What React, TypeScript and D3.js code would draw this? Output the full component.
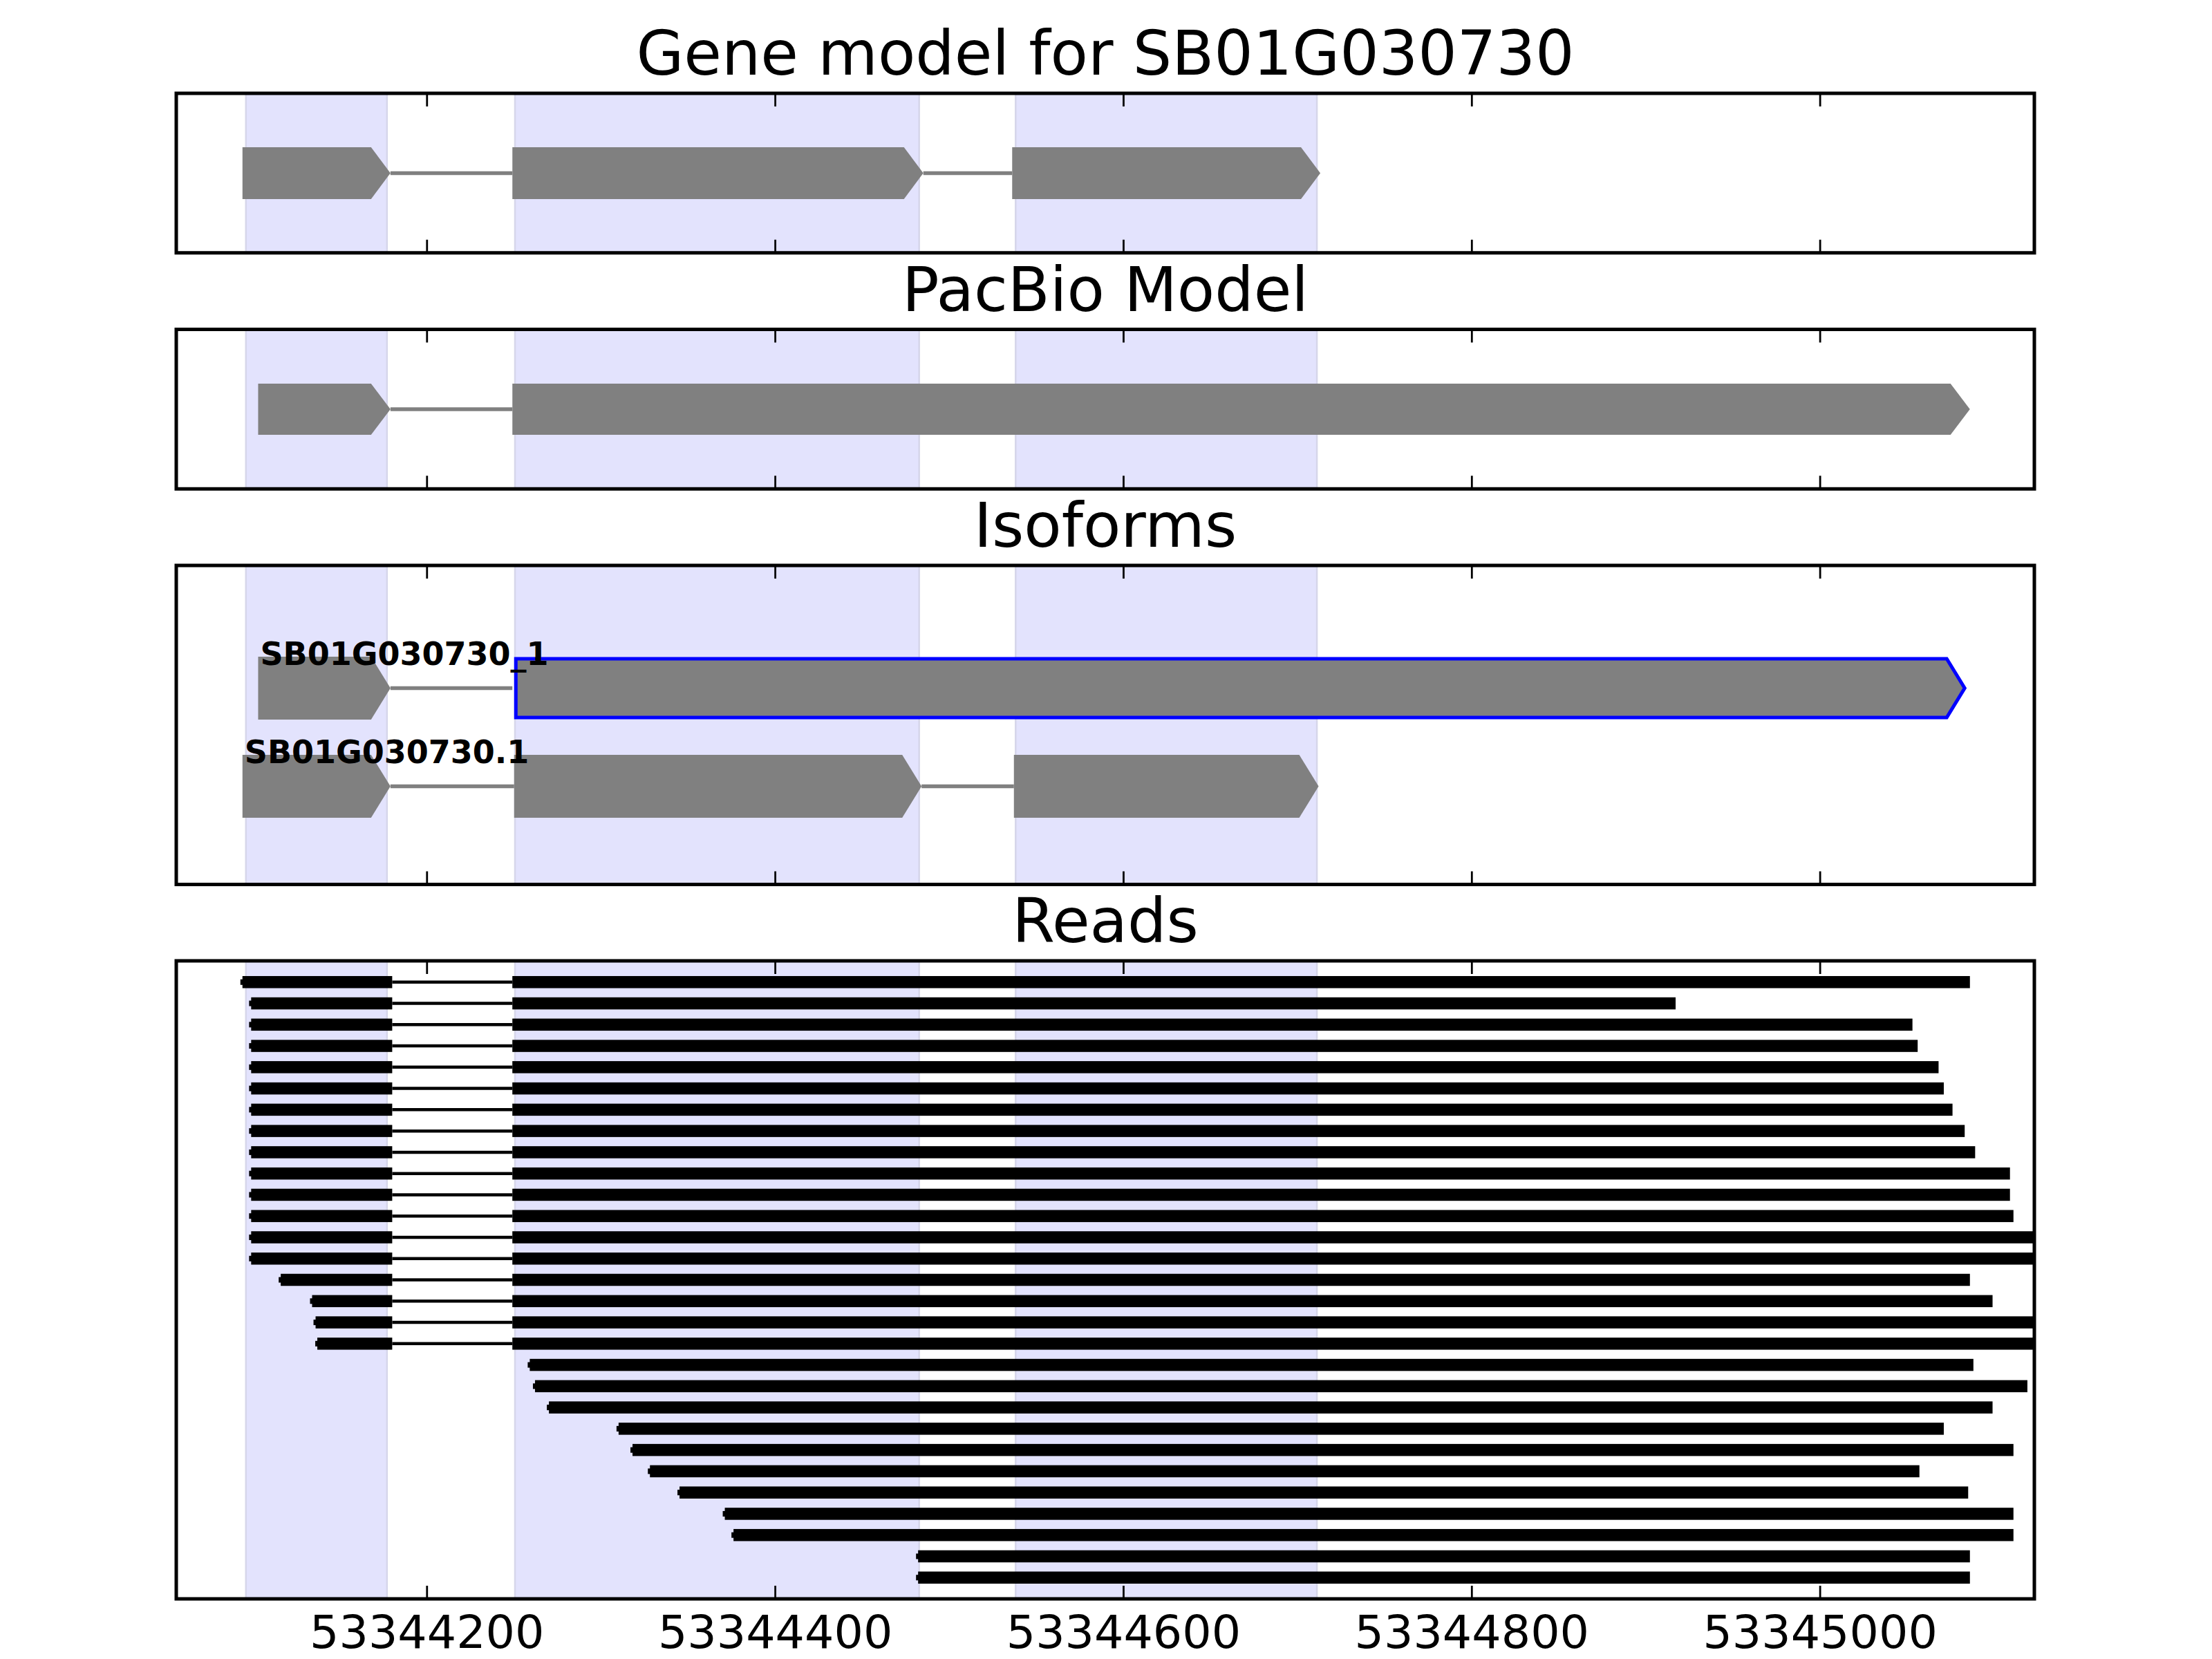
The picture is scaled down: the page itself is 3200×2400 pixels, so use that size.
import React, { useEffect } from "react";
import * as d3 from "d3";

// ---------- data ----------
const X_MIN = 53344056;
const X_MAX = 53345123;
const TICKS = [53344200, 53344400, 53344600, 53344800, 53345000];

const TITLES = ["Gene model for SB01G030730", "PacBio Model", "Isoforms", "Reads"];

// shaded exon regions (from gene model)
const SHADE_STARTS = [53344096, 53344250.5, 53344538];
const SHADE_ENDS = [53344177, 53344482.6, 53344711];

const GENE_STARTS = [53344096, 53344251, 53344538];
const GENE_ENDS = [53344177, 53344483, 53344711];

const PACBIO_STARTS = [53344105, 53344251];
const PACBIO_ENDS = [53344177, 53345084];

const ISOFORM_NAMES = ["SB01G030730_1", "SB01G030730.1"];
const ISOFORM_STARTS = [
  [53344105, 53344251],
  [53344096, 53344252, 53344539],
];
const ISOFORM_ENDS = [
  [53344177, 53345083],
  [53344177, 53344482, 53344710],
];
const ISOFORM_HIGHLIGHT = [
  [false, true],
  [false, false, false],
];

const READ_STARTS = [
  53344094, 53344099, 53344099, 53344099, 53344099, 53344099, 53344099, 53344099,
  53344099, 53344099, 53344099, 53344099, 53344099, 53344099, 53344116, 53344134,
  53344136, 53344137, 53344259, 53344262, 53344270, 53344310, 53344318, 53344328,
  53344345, 53344371, 53344376, 53344482, 53344482,
];
const READ_ENDS = [
  53345086, 53344917, 53345053, 53345056, 53345068, 53345071, 53345076, 53345083,
  53345089, 53345109, 53345109, 53345111, 53345140, 53345140, 53345086, 53345099,
  53345140, 53345140, 53345088, 53345119, 53345099, 53345071, 53345111, 53345057,
  53345085, 53345111, 53345111, 53345086, 53345086,
];
const READ_SPLICED = [
  true, true, true, true, true, true, true, true, true, true, true, true, true, true,
  true, true, true, true, false, false, false, false, false, false, false, false,
  false, false, false,
];
const JUNCTION_DONOR = 53344180;
const JUNCTION_ACCEPTOR = 53344249;

// ---------- layout ----------
const W = 3200;
const H = 2400;
const LEFT = 255;
const RIGHT = 2943;
const UNIT = 230.75;
const PANELS = [
  { top: 135, h: UNIT },
  { top: 476.5, h: UNIT },
  { top: 818, h: UNIT * 2 },
  { top: 1390, h: UNIT * 4 },
];
const FONT = "DejaVu Sans, Liberation Sans, sans-serif";
const GRAY = "#808080";

const x = d3.scaleLinear().domain([X_MIN, X_MAX]).range([LEFT, RIGHT]);

function arrowPts(s: number, e: number, yc: number, half: number, pad = 5, head = 28) {
  const l = x(s) - pad;
  const t = x(e) + pad;
  const f = t - head;
  return [
    [l, yc - half],
    [f, yc - half],
    [t, yc],
    [f, yc + half],
    [l, yc + half],
  ]
    .map((p) => p.join(","))
    .join(" ");
}

function Shading({ top, h }: { top: number; h: number }) {
  return (
    <g>
      {SHADE_STARTS.map((s, i) => (
        <rect
          key={i}
          x={x(s)}
          y={top}
          width={x(SHADE_ENDS[i]) - x(s)}
          height={h}
          fill="#e3e3fd"
          stroke="#d6d6ea"
          strokeWidth={2.5}
        />
      ))}
    </g>
  );
}

function Gene({
  starts,
  ends,
  yc,
  half,
  highlight,
}: {
  starts: number[];
  ends: number[];
  yc: number;
  half: number;
  highlight?: boolean[];
}) {
  return (
    <g>
      {starts.slice(0, -1).map((s, i) => (
        <line
          key={"i" + i}
          x1={x(ends[i]) + 5}
          x2={x(starts[i + 1]) - 5}
          y1={yc}
          y2={yc}
          stroke={GRAY}
          strokeWidth={5.5}
        />
      ))}
      {starts.map((s, i) =>
        highlight && highlight[i] ? (
          <polygon
            key={i}
            points={arrowPts(s, ends[i], yc, half - 3, 0, 26)}
            fill={GRAY}
            stroke="#0000ff"
            strokeWidth={5}
          />
        ) : (
          <polygon key={i} points={arrowPts(s, ends[i], yc, half)} fill={GRAY} />
        )
      )}
    </g>
  );
}

function Frame({ top, h, labels }: { top: number; h: number; labels?: boolean }) {
  return (
    <g>
      {TICKS.map((t) => (
        <g key={t}>
          <line x1={x(t)} x2={x(t)} y1={top} y2={top + 19} stroke="#000" strokeWidth={2.8} />
          <line x1={x(t)} x2={x(t)} y1={top + h} y2={top + h - 19} stroke="#000" strokeWidth={2.8} />
          {labels && (
            <text
              x={x(t)}
              y={top + h + 71}
              textAnchor="middle"
              fontFamily={FONT}
              fontSize={66.7}
              fill="#000"
            >
              {t}
            </text>
          )}
        </g>
      ))}
      <rect x={LEFT} y={top} width={RIGHT - LEFT} height={h} fill="none" stroke="#000" strokeWidth={5} />
    </g>
  );
}

export default function App() {
  useEffect(() => {
    document.body.style.margin = "0";
  }, []);

  const [p1, p2, p3, p4] = PANELS;
  const isoY = d3.scaleLinear().domain([0, 3.25]).range([p3.top, p3.top + p3.h]);
  const readY = d3.scaleLinear().domain([0, 30]).range([p4.top, p4.top + p4.h]);
  const barH = 17.5;

  return (
    <svg width={W} height={H} style={{ display: "block", background: "#fff" }}>
      <defs>
        <clipPath id="readsClip">
          <rect x={LEFT} y={p4.top} width={RIGHT - LEFT} height={p4.h} />
        </clipPath>
      </defs>
      <rect x={0} y={0} width={W} height={H} fill="#fff" />
      {PANELS.map((p, i) => (
        <text
          key={i}
          x={(LEFT + RIGHT) / 2}
          y={p.top - 27}
          textAnchor="middle"
          fontFamily={FONT}
          fontSize={88.9}
          fill="#000"
        >
          {TITLES[i]}
        </text>
      ))}

      {/* Panel 1: gene model */}
      <Shading top={p1.top} h={p1.h} />
      <Gene starts={GENE_STARTS} ends={GENE_ENDS} yc={p1.top + p1.h / 2} half={37.5} />
      <Frame top={p1.top} h={p1.h} />

      {/* Panel 2: PacBio */}
      <Shading top={p2.top} h={p2.h} />
      <Gene starts={PACBIO_STARTS} ends={PACBIO_ENDS} yc={p2.top + p2.h / 2} half={37} />
      <Frame top={p2.top} h={p2.h} />

      {/* Panel 3: isoforms */}
      <Shading top={p3.top} h={p3.h} />
      {ISOFORM_NAMES.map((name, i) => {
        const yc = isoY(i + 1.25);
        return (
          <g key={name}>
            <Gene
              starts={ISOFORM_STARTS[i]}
              ends={ISOFORM_ENDS[i]}
              yc={yc}
              half={45.5}
              highlight={ISOFORM_HIGHLIGHT[i]}
            />
            <text
              x={x(ISOFORM_STARTS[i][0]) - 2}
              y={yc - 34}
              fontFamily={FONT}
              fontWeight="bold"
              fontSize={46}
              fill="#000"
            >
              {name}
            </text>
          </g>
        );
      })}
      <Frame top={p3.top} h={p3.h} />

      {/* Panel 4: reads */}
      <Shading top={p4.top} h={p4.h} />
      <g clipPath="url(#readsClip)">
        {READ_STARTS.map((s, i) => {
          const yc = readY(i + 1);
          const e = READ_ENDS[i];
          if (READ_SPLICED[i]) {
            return (
              <g key={i}>
                <rect x={x(s) - 3} y={yc - 4} width={4} height={8} fill="#000" />
                <rect x={x(s)} y={yc - barH / 2} width={x(JUNCTION_DONOR) - x(s)} height={barH} fill="#000" />
                <line
                  x1={x(JUNCTION_DONOR)}
                  x2={x(JUNCTION_ACCEPTOR)}
                  y1={yc}
                  y2={yc}
                  stroke="#000"
                  strokeWidth={4.5}
                />
                <rect
                  x={x(JUNCTION_ACCEPTOR)}
                  y={yc - barH / 2}
                  width={x(e) - x(JUNCTION_ACCEPTOR)}
                  height={barH}
                  fill="#000"
                />
              </g>
            );
          }
          return (
            <g key={i}>
              <rect x={x(s) - 3} y={yc - 4} width={4} height={8} fill="#000" />
              <rect x={x(s)} y={yc - barH / 2} width={x(e) - x(s)} height={barH} fill="#000" />
            </g>
          );
        })}
      </g>
      <Frame top={p4.top} h={p4.h} labels />
    </svg>
  );
}
